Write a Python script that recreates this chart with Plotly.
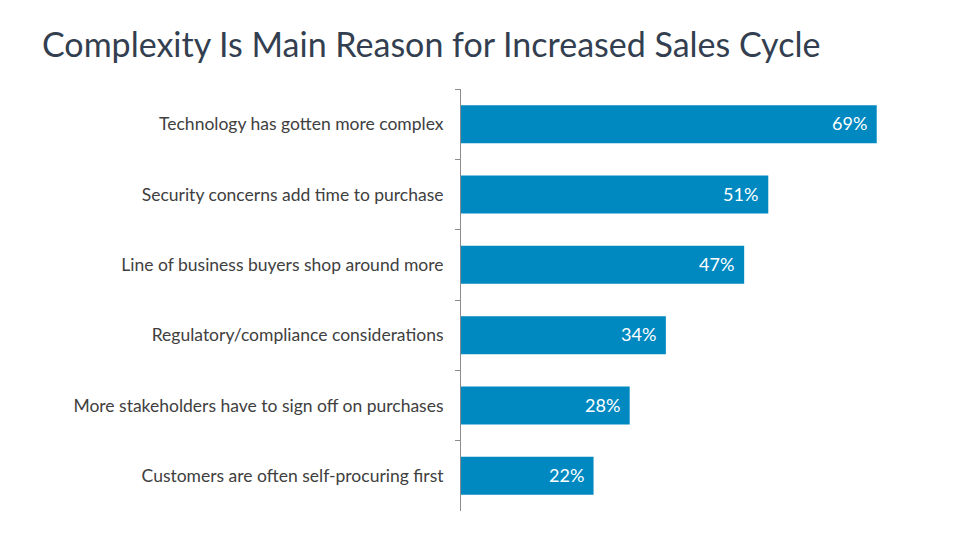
import plotly.graph_objects as go

categories = [
    "Technology has gotten more complex",
    "Security concerns add time to purchase",
    "Line of business buyers shop around more",
    "Regulatory/compliance considerations",
    "More stakeholders have to sign off on purchases",
    "Customers are often self-procuring first",
]
values = [69, 51, 47, 34, 28, 22]
value_labels = [f"{v}%" for v in values]

BAR = "#0089C1"
FONT = "Lato, 'Open Sans', sans-serif"

fig = go.Figure()
fig.add_trace(go.Bar(
    x=values, y=categories, orientation="h",
    marker=dict(color=BAR, line=dict(width=0)),
    hoverinfo="skip",
))

for c, v, t in zip(categories, values, value_labels):
    fig.add_annotation(x=v, y=c, xref="x", yref="y", text=t, showarrow=False,
                       xanchor="right", xshift=-8, yshift=1,
                       font=dict(family=FONT, size=18, color="white"))

fig.update_layout(
    width=960, height=540,
    paper_bgcolor="white", plot_bgcolor="white",
    margin=dict(l=453, r=25, t=81, b=37),
    bargap=0.46,
    showlegend=False,
    title=dict(text="Complexity Is Main Reason for Increased Sales Cycle",
               x=34/960, xanchor="left", y=1-37/540, yanchor="middle",
               font=dict(family=FONT, size=34, color="#333F50")),
    xaxis=dict(range=[0, 80], visible=False, fixedrange=True),
    yaxis=dict(autorange="reversed", showline=True, linecolor="#8C8C8C", linewidth=1,
               ticks="outside", ticklen=5, tickcolor="#8C8C8C", tickson="boundaries",
               ticklabelstandoff=13,
               tickfont=dict(family=FONT, size=17.5, color="#404040"),
               showgrid=False, zeroline=False),
)

fig.write_html("out.html")
